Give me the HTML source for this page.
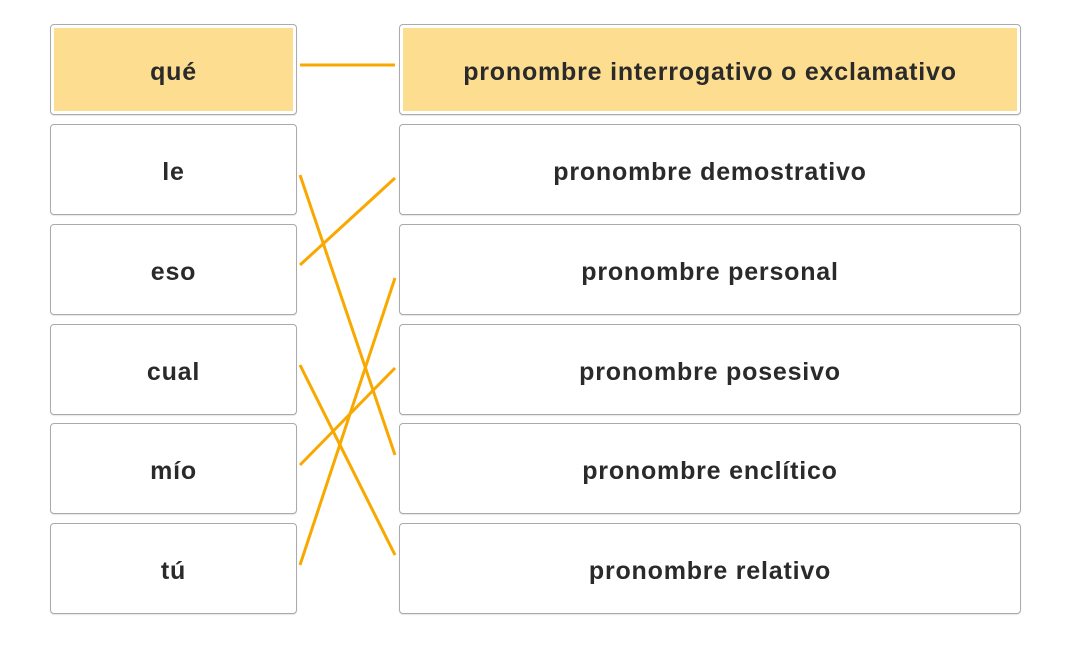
<!DOCTYPE html>
<html><head><style>
body{margin:0;width:1067px;height:648px;background:#fff;position:relative;overflow:hidden;font-family:"Liberation Sans","DejaVu Sans",sans-serif;}
.b{position:absolute;box-sizing:border-box;border:1px solid #aaa;border-radius:4px;background:#fff;display:flex;align-items:center;justify-content:center;font-size:25px;letter-spacing:0.8px;color:#2a2a2a;font-weight:bold;box-shadow:0 1px 1px rgba(0,0,0,0.1);}
.b span{position:relative;top:3px}
.y::before{content:"";position:absolute;left:3px;top:3px;right:3px;bottom:3px;background:#fddd8f;}
.l{left:50px;width:247px;height:91px}
.r{left:399px;width:622px;height:91px}
svg{position:absolute;left:0;top:0}
</style></head><body>
<div class="b l y" style="top:24px"><span>qué</span></div>
<div class="b l" style="top:124px"><span>le</span></div>
<div class="b l" style="top:224px"><span>eso</span></div>
<div class="b l" style="top:324px"><span>cual</span></div>
<div class="b l" style="top:423px"><span>mío</span></div>
<div class="b l" style="top:523px"><span>tú</span></div>
<div class="b r y" style="top:24px"><span>pronombre interrogativo o exclamativo</span></div>
<div class="b r" style="top:124px"><span>pronombre demostrativo</span></div>
<div class="b r" style="top:224px"><span>pronombre personal</span></div>
<div class="b r" style="top:324px"><span>pronombre posesivo</span></div>
<div class="b r" style="top:423px"><span>pronombre enclítico</span></div>
<div class="b r" style="top:523px"><span>pronombre relativo</span></div>
<svg width="1067" height="648"><g stroke="#f9a800" stroke-width="3" fill="none">
<line x1="300" y1="65" x2="395" y2="65"/>
<line x1="300" y1="175" x2="395" y2="455"/>
<line x1="300" y1="265" x2="395" y2="178"/>
<line x1="300" y1="365" x2="395" y2="555"/>
<line x1="300" y1="465" x2="395" y2="368"/>
<line x1="300" y1="565" x2="395" y2="278"/>
</g></svg>
</body></html>
